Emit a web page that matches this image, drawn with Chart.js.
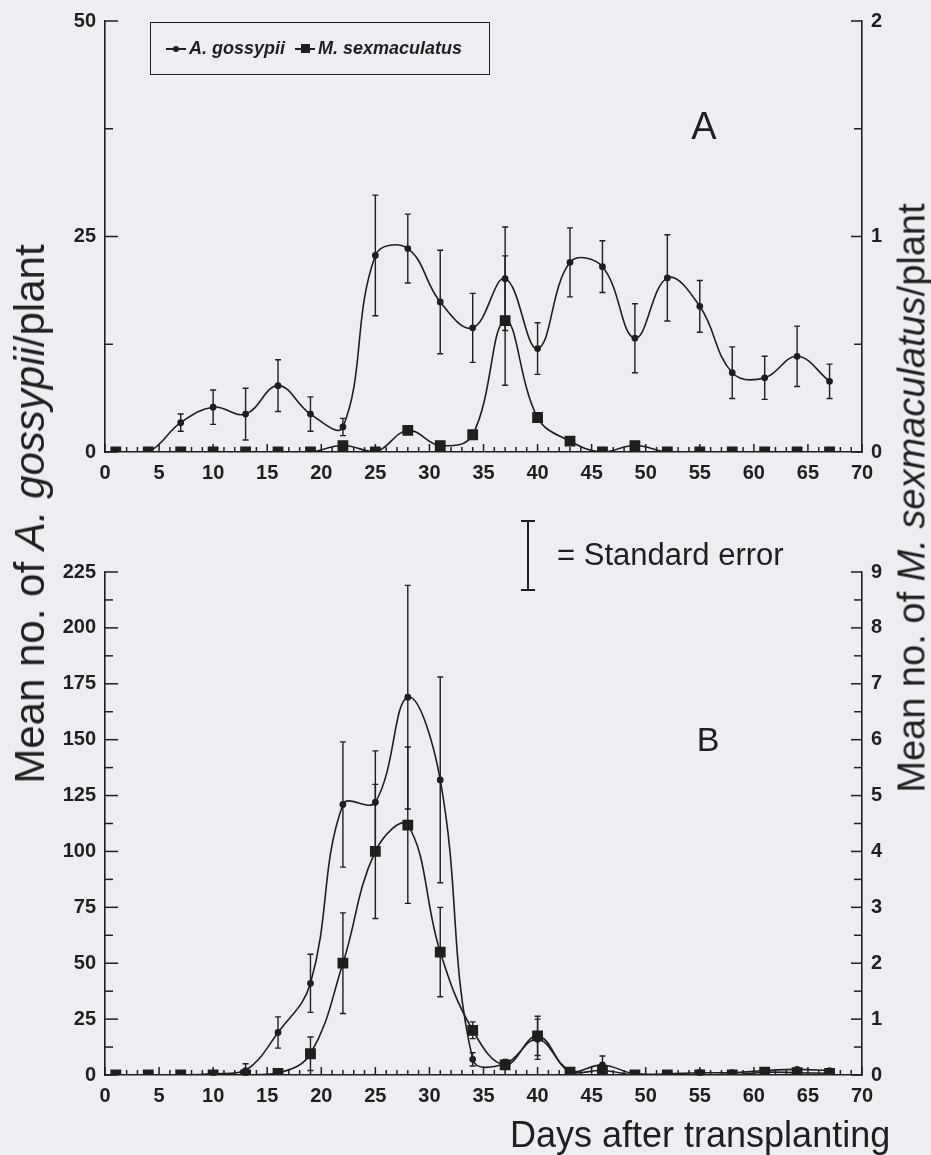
<!DOCTYPE html>
<html lang="en">
<head>
<meta charset="UTF-8" />
<title>A. gossypii and M. sexmaculatus after transplanting</title>
<script src="https://cdn.jsdelivr.net/npm/chart.js@4.4.1/dist/chart.umd.min.js"></script>
<style>
  body { margin: 0; background: #eceef1; font-family: "Liberation Sans", Arial, sans-serif; color: #1f1f1f; }
  .page { position: relative; width: 931px; height: 1155px; overflow: hidden; }
  canvas { position: absolute; left: 0; }
  #chartA { top: 0; }
  #chartB { top: 500px; }

  .legend {
    position: absolute; left: 150px; top: 22px; width: 340px; height: 53px;
    border: 1.5px solid #1f1f1f; font-weight: bold; font-style: italic; font-size: 18px;
    display: flex; align-items: center; padding-left: 15px; box-sizing: border-box;
  }
  .legend .mk { position: relative; display: inline-block; width: 20px; height: 10px; margin-right: 3px; }
  .legend .mk::before { content: ""; position: absolute; left: 0; right: 0; top: 4px; border-top: 2px solid #1f1f1f; }
  .legend .dot::after { content: ""; position: absolute; left: 7px; top: 2px; width: 6px; height: 6px; border-radius: 50%; background: #1f1f1f; }
  .legend .sq::after { content: ""; position: absolute; left: 6px; top: 0; width: 9px; height: 9px; background: #1f1f1f; }
  .legend .gap { width: 10px; display: inline-block; }

  .panel { position: absolute; font-size: 38px; transform: translate(-50%, -50%); }
  .ytitle { position: absolute; white-space: nowrap; transform: translate(-50%, -50%) rotate(-90deg); }
  .xtitle { position: absolute; left: 510px; top: 1114px; font-size: 36px; white-space: nowrap; }

  .sekey { position: absolute; left: 521px; top: 520px; width: 14px; height: 71px;
           border-top: 2px solid #1f1f1f; border-bottom: 2px solid #1f1f1f; box-sizing: border-box; }
  .sekey::after { content: ""; position: absolute; left: 6px; top: 0; bottom: 0; border-left: 2px solid #1f1f1f; }
  .setext { position: absolute; left: 557px; top: 537px; font-size: 31px; white-space: nowrap; }
</style>
</head>
<body>
<div class="page">
  <canvas id="chartA" width="931" height="500"></canvas>
  <canvas id="chartB" width="931" height="655"></canvas>

  <div class="legend">
    <span class="mk dot"></span><span>A. gossypii</span>
    <span class="gap"></span>
    <span class="mk sq"></span><span>M. sexmaculatus</span>
  </div>

  <div class="panel" style="left:704px; top:126px;">A</div>
  <div class="panel" style="left:708px; top:739px; font-size:34px;">B</div>

  <div class="sekey"></div>
  <div class="setext">= Standard error</div>

  <div class="ytitle" style="left:30px; top:514px; font-size:42px;">Mean no. of <i>A. gossypii</i>/plant</div>
  <div class="ytitle" style="left:912px; top:498px; font-size:38px;">Mean no. of <i>M. sexmaculatus</i>/plant</div>
  <div class="xtitle">Days after transplanting</div>
</div>

<script>
  // sampling days (days after transplanting)
  const days = [1, 4, 7, 10, 13, 16, 19, 22, 25, 28, 31, 34, 37, 40, 43, 46, 49, 52, 55, 58, 61, 64, 67];

  // panel A
  const aphidA = [0, 0, 3.4, 5.2, 4.4, 7.7, 4.4, 2.9, 22.8, 23.6, 17.4, 14.4, 20.1, 12.0, 22.0, 21.5, 13.2, 20.2, 16.9, 9.2, 8.6, 11.1, 8.2];
  const aphidAErr = [0, 0, 1, 2, 3, 3, 2, 1, 7, 4, 6, 4, 6, 3, 4, 3, 4, 5, 3, 3, 2.5, 3.5, 2];
  const beetleA = [0, 0, 0, 0, 0, 0, 0, 0.03, 0, 0.1, 0.03, 0.08, 0.61, 0.16, 0.05, 0, 0.03, 0, 0, 0, 0, 0, 0];
  const beetleAErr = [0, 0, 0, 0, 0, 0, 0, 0, 0, 0, 0, 0, 0.3, 0, 0, 0, 0, 0, 0, 0, 0, 0, 0];

  // panel B
  const aphidB = [0, 0, 0, 0.5, 2, 19, 41, 121, 122, 169, 132, 7, 5, 16, 2, 4.5, 0.5, 0.5, 1, 1, 2, 2.5, 2];
  const aphidBErr = [0, 0, 0, 0.5, 3, 7, 13, 28, 23, 50, 46, 3, 2, 9, 1, 4, 0, 0, 1, 0, 0, 0, 0];
  const beetleB = [0, 0, 0, 0, 0, 0.03, 0.38, 2.0, 4.0, 4.47, 2.2, 0.8, 0.18, 0.7, 0.05, 0.08, 0, 0, 0, 0, 0.05, 0.04, 0.03];
  const beetleBErr = [0, 0, 0, 0, 0, 0, 0.3, 0.9, 1.2, 1.4, 0.8, 0.15, 0, 0.35, 0, 0, 0, 0, 0, 0, 0, 0, 0];

  // axis ranges and tick steps
  const xRange = [0, 70], xStep = 5, xMinor = 1;
  const leftA = [0, 50], leftAStep = 25;
  const rightA = [0, 2], rightAStep = 1;
  const leftB = [0, 225], leftBStep = 25;
  const rightB = [0, 9], rightBStep = 1;

  const ink = "#1f1f1f";
  Chart.defaults.font.family = "'Liberation Sans', Arial, sans-serif";
  Chart.defaults.font.size = 20;
  Chart.defaults.font.weight = "bold";
  Chart.defaults.color = ink;

  const toPts = (vals) => days.map((d, i) => ({ x: d, y: vals[i] }));

  // vertical standard error bars with small caps
  const errorBars = {
    id: "errorBars",
    afterDatasetsDraw(chart) {
      const ctx = chart.ctx;
      ctx.save();
      ctx.strokeStyle = ink;
      ctx.lineWidth = 1.4;
      chart.data.datasets.forEach((ds, i) => {
        if (!ds.errors) return;
        const meta = chart.getDatasetMeta(i);
        const xs = chart.scales[meta.xAxisID];
        const ys = chart.scales[meta.yAxisID];
        ds.data.forEach((pt, j) => {
          const e = ds.errors[j];
          if (!e) return;
          const x = xs.getPixelForValue(pt.x);
          const top = ys.getPixelForValue(pt.y + e);
          const bot = ys.getPixelForValue(Math.max(pt.y - e, ys.min));
          ctx.beginPath();
          ctx.moveTo(x, top); ctx.lineTo(x, bot);
          ctx.moveTo(x - 3, top); ctx.lineTo(x + 3, top);
          ctx.moveTo(x - 3, bot); ctx.lineTo(x + 3, bot);
          ctx.stroke();
        });
      });
      ctx.restore();
    }
  };

  // tick marks pointing into the plot, major + minor
  const inwardTicks = {
    id: "inwardTicks",
    afterDraw(chart, args, opts) {
      const ctx = chart.ctx;
      ctx.save();
      ctx.strokeStyle = ink;
      ctx.lineWidth = 1.5;
      Object.values(chart.scales).forEach((s) => {
        const cfg = opts[s.id];
        if (!cfg) return;
        const n = Math.round((s.max - s.min) / cfg.minor);
        for (let k = 0; k <= n; k++) {
          const v = s.min + k * cfg.minor;
          const r = v / cfg.major;
          const len = Math.abs(r - Math.round(r)) < 1e-6 ? cfg.majorLen : cfg.minorLen;
          const p = s.getPixelForValue(v);
          ctx.beginPath();
          if (s.axis === "x") { ctx.moveTo(p, s.top); ctx.lineTo(p, s.top - len); }
          else if (s.position === "left") { ctx.moveTo(s.right, p); ctx.lineTo(s.right + len, p); }
          else { ctx.moveTo(s.left, p); ctx.lineTo(s.left - len, p); }
          ctx.stroke();
        }
      });
      ctx.restore();
    }
  };

  function makeChart(id, cfg) {
    const axis = (range, step, pos, width) => ({
      type: "linear",
      position: pos,
      min: range[0],
      max: range[1],
      ticks: { stepSize: step, padding: 9, color: ink },
      grid: { display: false, drawTicks: false },
      border: { display: true, color: ink, width: 1.6 },
      afterFit: (s) => { s.width = width; }
    });
    return new Chart(document.getElementById(id), {
      type: "line",
      data: {
        datasets: [
          {
            label: "A. gossypii",
            data: toPts(cfg.aphid),
            errors: cfg.aphidErr,
            yAxisID: "yL",
            borderColor: ink,
            backgroundColor: ink,
            borderWidth: 1.6,
            pointRadius: 2.6,
            pointStyle: "circle",
            tension: 0.4
          },
          {
            label: "M. sexmaculatus",
            data: toPts(cfg.beetle),
            errors: cfg.beetleErr,
            yAxisID: "yR",
            borderColor: ink,
            backgroundColor: ink,
            borderWidth: 1.6,
            pointRadius: 6.5,
            pointStyle: "rect",
            tension: 0.4
          }
        ]
      },
      options: {
        responsive: false,
        animation: false,
        layout: { padding: { top: cfg.padTop, left: 0, right: 0, bottom: 0 } },
        scales: {
          x: {
            type: "linear",
            min: xRange[0],
            max: xRange[1],
            ticks: { stepSize: xStep, padding: 9, autoSkip: false, maxRotation: 0, color: ink },
            grid: { display: false, drawTicks: false },
            border: { display: true, color: ink, width: 1.6 },
            afterFit: (s) => { s.height = cfg.xHeight; }
          },
          yL: axis(cfg.left, cfg.leftStep, "left", 105),
          yR: axis(cfg.right, cfg.rightStep, "right", 69)
        },
        plugins: {
          legend: { display: false },
          tooltip: { enabled: false },
          inwardTicks: {
            x: { major: xStep, minor: xMinor, majorLen: 8, minorLen: 5 },
            yL: { major: cfg.leftStep, minor: cfg.leftStep / 2, majorLen: 13, minorLen: 8 },
            yR: { major: cfg.rightStep, minor: cfg.rightStep / 2, majorLen: 11, minorLen: 8 }
          }
        }
      },
      plugins: [errorBars, inwardTicks]
    });
  }

  makeChart("chartA", {
    aphid: aphidA, aphidErr: aphidAErr, beetle: beetleA, beetleErr: beetleAErr,
    left: leftA, leftStep: leftAStep, right: rightA, rightStep: rightAStep,
    padTop: 20, xHeight: 48
  });

  makeChart("chartB", {
    aphid: aphidB, aphidErr: aphidBErr, beetle: beetleB, beetleErr: beetleBErr,
    left: leftB, leftStep: leftBStep, right: rightB, rightStep: rightBStep,
    padTop: 72, xHeight: 80
  });
</script>
</body>
</html>
